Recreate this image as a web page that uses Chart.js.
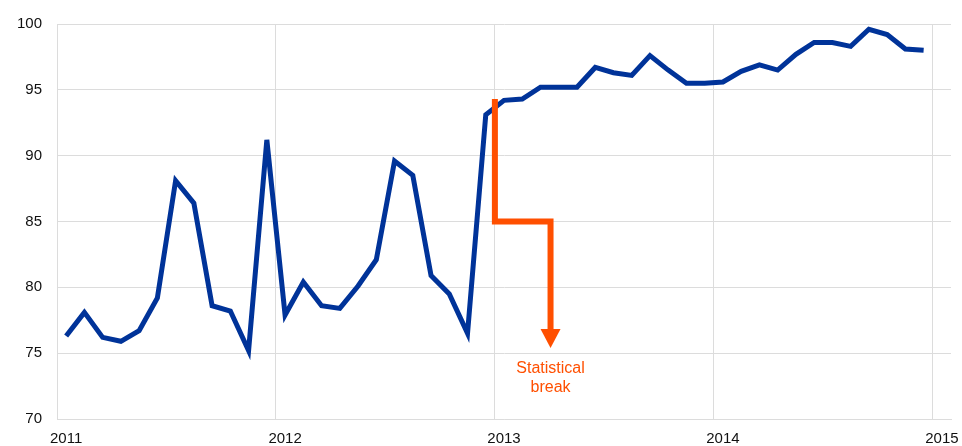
<!DOCTYPE html>
<html>
<head>
<meta charset="utf-8">
<script src="https://cdn.jsdelivr.net/npm/chart.js@4/dist/chart.umd.min.js"></script>
<style>
  body { margin: 0; background: #fff; }
  #wrap { width: 962px; height: 446px; position: relative; }
</style>
</head>
<body>
<div id="wrap"><canvas id="linechart"></canvas></div>
<script>
// monthly categories, Jan 2011 .. Jan 2015
const months = [
  '2011-01','2011-02','2011-03','2011-04','2011-05','2011-06','2011-07','2011-08','2011-09','2011-10','2011-11','2011-12',
  '2012-01','2012-02','2012-03','2012-04','2012-05','2012-06','2012-07','2012-08','2012-09','2012-10','2012-11','2012-12',
  '2013-01','2013-02','2013-03','2013-04','2013-05','2013-06','2013-07','2013-08','2013-09','2013-10','2013-11','2013-12',
  '2014-01','2014-02','2014-03','2014-04','2014-05','2014-06','2014-07','2014-08','2014-09','2014-10','2014-11','2014-12',
  '2015-01'
];

const values = [
  76.3, 78.1, 76.2, 75.9, 76.7, 79.2, 88.1, 86.4, 78.6, 78.2, 75.2, 91.2,
  77.9, 80.4, 78.6, 78.4, 80.1, 82.1, 89.6, 88.5, 80.9, 79.5, 76.5, 93.1,
  94.2, 94.3, 95.2, 95.2, 95.2, 96.7, 96.3, 96.1, 97.6, 96.5, 95.5, 95.5,
  95.6, 96.4, 96.9, 96.5, 97.7, 98.6, 98.6, 98.3, 99.6, 99.2, 98.1, 98.0,
  null
];

const yTicks = [70, 75, 80, 85, 90, 95, 100];

// statistical break marker, in (category index, value) units
const breakPath = [[23.5, 94.3], [23.5, 85], [26.55, 85], [26.55, 75.4]];
const breakLabel = ['Statistical', 'break'];
const breakLabelAt = [26.55, 73.8];

const orange = '#ff4f00';

const breakPlugin = {
  id: 'breakMarker',
  afterDatasetsDraw(chart) {
    const { ctx, scales: { x, y } } = chart;
    const pts = breakPath.map(p => [x.getPixelForValue(p[0]), y.getPixelForValue(p[1])]);
    ctx.save();
    ctx.strokeStyle = orange;
    ctx.fillStyle = orange;
    ctx.lineWidth = 6;
    ctx.lineJoin = 'miter';
    const last = pts[pts.length - 1];
    const head = 19;
    ctx.beginPath();
    ctx.moveTo(pts[0][0], pts[0][1]);
    for (let i = 1; i < pts.length - 1; i++) ctx.lineTo(pts[i][0], pts[i][1]);
    ctx.lineTo(last[0], last[1] - head + 2);
    ctx.stroke();
    ctx.beginPath();
    ctx.moveTo(last[0] - 10, last[1] - head);
    ctx.lineTo(last[0] + 10, last[1] - head);
    ctx.lineTo(last[0], last[1]);
    ctx.closePath();
    ctx.fill();

    ctx.font = '16px "Liberation Sans", Arial, sans-serif';
    ctx.textAlign = 'center';
    ctx.textBaseline = 'middle';
    const tx = x.getPixelForValue(breakLabelAt[0]);
    const ty = y.getPixelForValue(breakLabelAt[1]);
    breakLabel.forEach((t, i) => ctx.fillText(t, tx, ty + i * 19));
    ctx.restore();
  }
};

const ctx = document.getElementById('linechart').getContext('2d');
const myChart = new Chart(ctx, {
  type: 'line',
  data: {
    labels: months,
    datasets: [{
      data: values,
      borderColor: '#003399',
      borderWidth: 5,
      pointRadius: 0,
      tension: 0,
      fill: false
    }]
  },
  options: {
    responsive: true,
    maintainAspectRatio: false,
    animation: false,
    layout: { padding: { top: 20, right: 11, bottom: 0, left: 2 } },
    plugins: {
      legend: { display: false },
      tooltip: { enabled: false }
    },
    scales: {
      x: {
        type: 'category',
        offset: true,
        afterFit: axis => { axis.height = 27; axis.paddingRight = 0; },
        grid: {
          offset: true,
          drawTicks: false,
          color: c => (c.tick && c.index % 12 === 0) ? '#dcdcdc' : 'rgba(0,0,0,0)',
          lineWidth: 1
        },
        border: { color: '#dcdcdc' },
        ticks: {
          autoSkip: false,
          maxRotation: 0,
          padding: 11,
          color: '#111',
          font: { family: '"Liberation Sans", Arial, sans-serif', size: 15 },
          callback: (v, i) => i % 12 === 0 ? months[i].slice(0, 4) : ''
        }
      },
      y: {
        min: 70,
        max: 100,
        afterBuildTicks: axis => { axis.ticks = yTicks.map(v => ({ value: v })); },
        grid: { color: '#dcdcdc', drawTicks: false },
        border: { color: '#dcdcdc' },
        ticks: {
          padding: 15,
          color: '#111',
          font: { family: '"Liberation Sans", Arial, sans-serif', size: 15 }
        }
      }
    }
  },
  plugins: [breakPlugin]
});
</script>
</body>
</html>
